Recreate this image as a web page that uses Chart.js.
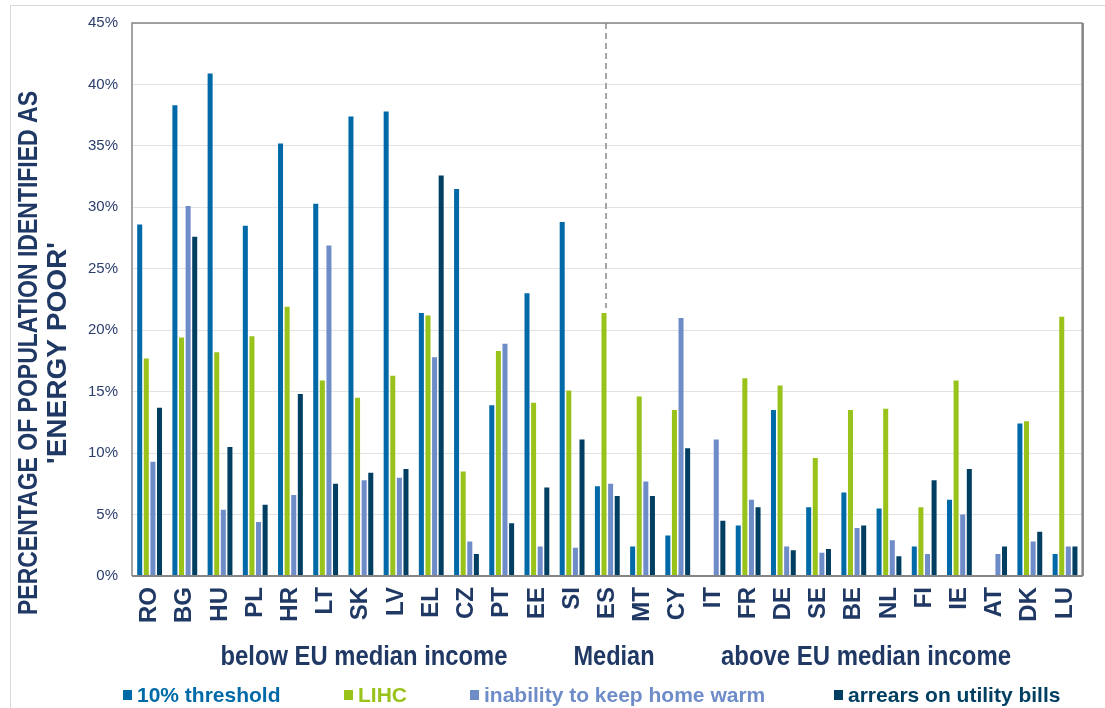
<!DOCTYPE html>
<html>
<head>
<meta charset="utf-8">
<script src="https://cdn.jsdelivr.net/npm/chart.js@4/dist/chart.umd.min.js"></script>
<style>
  html, body { margin: 0; padding: 0; background: #ffffff; }
  #wrap { width: 1105px; height: 708px; position: relative; }
</style>
</head>
<body>
<div id="wrap"><canvas id="c" width="1105" height="708"></canvas></div>
<script>
// ---- data ----
const categories = ['RO','BG','HU','PL','HR','LT','SK','LV','EL','CZ','PT','EE','SI','ES','MT','CY','IT','FR','DE','SE','BE','NL','FI','IE','AT','DK','LU'];
const threshold10 = [28.6, 38.3, 40.9, 28.5, 35.2, 30.3, 37.4, 37.8, 21.4, 31.5, 13.9, 23.0, 28.8, 7.3, 2.4, 3.3, null, 4.1, 13.5, 5.6, 6.8, 5.5, 2.4, 6.2, null, 12.4, 1.8];
const lihc        = [17.7, 19.4, 18.2, 19.5, 21.9, 15.9, 14.5, 16.3, 21.2, 8.5, 18.3, 14.1, 15.1, 21.4, 14.6, 13.5, null, 16.1, 15.5, 9.6, 13.5, 13.6, 5.6, 15.9, null, 12.6, 21.1];
const homeWarm    = [9.3, 30.1, 5.4, 4.4, 6.6, 26.9, 7.8, 8.0, 17.8, 2.8, 18.9, 2.4, 2.3, 7.5, 7.7, 21.0, 11.1, 6.2, 2.4, 1.9, 3.9, 2.9, 1.8, 5.0, 1.8, 2.8, 2.4];
const arrears     = [13.7, 27.6, 10.5, 5.8, 14.8, 7.5, 8.4, 8.7, 32.6, 1.8, 4.3, 7.2, 11.1, 6.5, 6.5, 10.4, 4.5, 5.6, 2.1, 2.2, 4.1, 1.6, 7.8, 8.7, 2.4, 3.6, 2.4];
const seriesNames = ['10% threshold', 'LIHC', 'inability to keep home warm', 'arrears on utility bills'];
const yTicks = [0, 5, 10, 15, 20, 25, 30, 35, 40, 45];
const groupLabels = ['below EU median income', 'Median', 'above EU median income'];
const yTitleLines = ['PERCENTAGE OF POPULATION IDENTIFIED AS', "'ENERGY POOR'"];
const medianCategory = 'ES';

// ---- styles ----
const colors = ['#0069a7', '#99c21b', '#6e8cc8', '#003f62'];
const navy = '#1f3864';
const FONT = '"Liberation Sans", Arial, sans-serif';
const NARROW = '"Liberation Sans Narrow", "Liberation Sans", Arial, sans-serif';

function fittedText(ctx, text, cx, y, targetW) {
  const w = ctx.measureText(text).width;
  const s = targetW / w;
  ctx.save();
  ctx.translate(cx, y);
  ctx.scale(s, 1);
  ctx.textAlign = 'center';
  ctx.fillText(text, 0, 0);
  ctx.restore();
}

const decorPlugin = {
  id: 'decor',
  beforeDraw(chart) {
    const ctx = chart.ctx;
    ctx.save();
    ctx.fillStyle = '#ffffff';
    ctx.fillRect(0, 0, chart.width, chart.height);
    ctx.strokeStyle = '#d9d9d9';
    ctx.lineWidth = 1;
    ctx.strokeRect(10.5, 5.5, chart.width + 20, chart.height + 20);
    ctx.restore();
  },
  afterDatasetsDraw(chart) {
    const ctx = chart.ctx;
    const a = chart.chartArea;
    const xs = chart.scales.x, ys = chart.scales.y;
    ctx.save();
    // median dashed line
    const mx = Math.round(xs.getPixelForValue(categories.indexOf(medianCategory))) - 1;
    ctx.strokeStyle = '#a6a6a6';
    ctx.lineWidth = 2;
    ctx.setLineDash([6, 4]);
    ctx.beginPath();
    ctx.moveTo(mx, a.top);
    ctx.lineTo(mx, ys.getPixelForValue(21.8));
    ctx.stroke();
    ctx.setLineDash([]);
    // plot frame
    ctx.strokeStyle = '#858585';
    ctx.lineWidth = 1.5;
    ctx.beginPath();
    ctx.moveTo(a.left, a.bottom);
    ctx.lineTo(a.left, a.top);
    ctx.lineTo(a.right, a.top);
    ctx.stroke();
    ctx.lineWidth = 2.5;
    ctx.beginPath();
    ctx.moveTo(a.right, a.top);
    ctx.lineTo(a.right, a.bottom);
    ctx.stroke();
    ctx.lineWidth = 2;
    ctx.beginPath();
    ctx.moveTo(a.left, a.bottom);
    ctx.lineTo(a.right, a.bottom);
    ctx.stroke();
    ctx.restore();
  },
  afterDraw(chart) {
    const ctx = chart.ctx;
    ctx.save();
    // y title
    ctx.fillStyle = navy;
    ctx.font = 'bold 27px ' + NARROW;
    ctx.textBaseline = 'middle';
    const titleX = [30, 59];
    const titleW = [524, 222];
    yTitleLines.forEach((t, i) => {
      ctx.save();
      ctx.translate(titleX[i], 353);
      ctx.rotate(-Math.PI / 2);
      fittedText(ctx, t, 0, 0, titleW[i]);
      ctx.restore();
    });
    // group labels
    ctx.textBaseline = 'alphabetic';
    ctx.font = 'bold 28px ' + NARROW;
    const gx = [364, 614, 866];
    const gw = [287, 81, 290];
    groupLabels.forEach((t, i) => fittedText(ctx, t, gx[i], 665, gw[i]));
    // legend
    ctx.font = 'bold 21px ' + FONT;
    ctx.textAlign = 'left';
    ctx.textBaseline = 'alphabetic';
    const sqX = [123, 344, 470, 834];
    seriesNames.forEach((t, i) => {
      ctx.fillStyle = colors[i];
      ctx.fillRect(sqX[i], 690, 9, 10);
      ctx.fillText(t, sqX[i] + 14, 702);
    });
    ctx.restore();
  }
};

const mkDs = (label, data, color) => ({
  label, data,
  backgroundColor: color,
  borderWidth: 0,
  categoryPercentage: 0.75,
  barPercentage: 0.76
});

new Chart(document.getElementById('c'), {
  type: 'bar',
  data: {
    labels: categories,
    datasets: [
      mkDs(seriesNames[0], threshold10, colors[0]),
      mkDs(seriesNames[1], lihc, colors[1]),
      mkDs(seriesNames[2], homeWarm, colors[2]),
      mkDs(seriesNames[3], arrears, colors[3])
    ]
  },
  options: {
    responsive: false,
    animation: false,
    events: [],
    layout: { padding: { top: 22, right: 9, left: 0, bottom: 0 } },
    plugins: {
      legend: { display: false },
      tooltip: { enabled: false },
      title: { display: false }
    },
    scales: {
      x: {
        grid: { display: false, drawTicks: false },
        border: { display: false },
        ticks: {
          minRotation: 90, maxRotation: 90,
          autoSkip: false,
          padding: 11,
          color: navy,
          font: { family: FONT, size: 24, weight: 'bold' }
        },
        afterFit(scale) { scale.height = 132; }
      },
      y: {
        min: 0, max: 45,
        afterBuildTicks(scale) { scale.ticks = yTicks.map(v => ({ value: v })); },
        grid: { color: '#e3e3e3', lineWidth: 1, drawTicks: false },
        border: { display: false },
        ticks: {
          padding: 14,
          color: '#2b3d6b',
          font: { family: FONT, size: 15 },
          callback: v => v + '%'
        },
        afterFit(scale) { scale.width = 132; }
      }
    }
  },
  plugins: [decorPlugin]
});
</script>
</body>
</html>
